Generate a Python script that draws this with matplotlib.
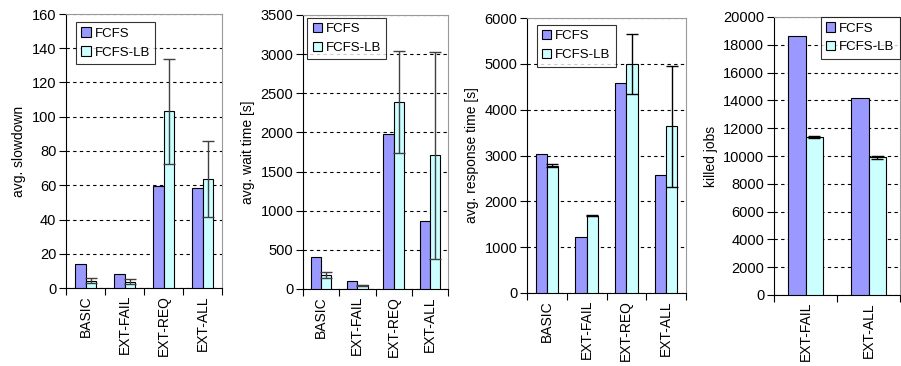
import matplotlib.pyplot as plt
import numpy as np

plt.rcParams['font.family'] = ['Liberation Sans', 'DejaVu Sans']

categories = ['BASIC', 'EXT-FAIL', 'EXT-REQ', 'EXT-ALL']
killed_categories = ['EXT-FAIL', 'EXT-ALL']

slowdown_fcfs = [14.2, 8.3, 59.5, 58.3]
slowdown_lb = [4.3, 3.6, 103.2, 63.5]
slowdown_lb_err = [1.5, 1.5, 30.5, 22.2]

wait_fcfs = [415, 100, 1975, 870]
wait_lb = [175, 45, 2390, 1710]
wait_lb_err = [40, 12, 650, 1322]

resp_fcfs = [3040, 1220, 4590, 2580]
resp_lb = [2780, 1690, 5000, 3640]
resp_lb_err = [40, 20, 655, 1320]

killed_fcfs = [18600, 14200]
killed_lb = [11350, 9900]
killed_lb_err = [80, 80]

W, H = 901, 366
fig = plt.figure(figsize=(W / 100, H / 100), dpi=100)


def px_axes(left, right, top, bottom):
  return fig.add_axes([left / W, 1 - bottom / H, (right - left) / W, (bottom - top) / H])


def panel(ax, cats, fcfs, lb, lb_err, ymax, ystep, ylabel, legend_loc, legend_anchor, err_color):
  x = np.arange(len(cats))
  w = 0.28
  ax.bar(x - w / 2, fcfs, w, color='#9999FF', edgecolor='black', linewidth=0.8, label='FCFS', zorder=3)
  ax.bar(x + w / 2, lb, w, color='#CCFFFF', edgecolor='black', linewidth=0.8, label='FCFS-LB', zorder=3)
  ax.errorbar(x + w / 2, lb, yerr=lb_err, fmt='none', ecolor=err_color, elinewidth=1.0,
              capsize=4, capthick=1.0, zorder=4)
  ax.set_xlim(-0.5, len(cats) - 0.5)
  ax.set_ylim(0, ymax)
  ax.set_yticks(np.arange(0, ymax + 1, ystep))
  ax.yaxis.grid(True, color='black', linestyle=(0, (3, 3)), linewidth=0.8, zorder=0)
  ax.set_axisbelow(True)
  ax.set_xticks(x)
  ax.set_xticklabels(cats, rotation=90, fontsize=10)
  ax.set_xticks(np.arange(len(cats) + 1) - 0.5, minor=True)
  ax.tick_params(axis='x', which='major', length=0, pad=5)
  ax.tick_params(axis='x', which='minor', length=5, direction='out', width=0.8)
  ax.tick_params(axis='y', length=5, direction='out', width=0.8, labelsize=10.5, pad=2)
  ax.set_ylabel(ylabel, fontsize=10)
  for s in ['left', 'bottom']:
    ax.spines[s].set_color('black')
    ax.spines[s].set_linewidth(0.8)
  for s in ['top', 'right']:
    ax.spines[s].set_color('#999999')
    ax.spines[s].set_linewidth(0.8)
  leg = ax.legend(loc=legend_loc, bbox_to_anchor=legend_anchor, fontsize=9.5, frameon=True,
                  fancybox=False, handlelength=0.7, handleheight=0.7, handletextpad=0.3,
                  borderpad=0.4, labelspacing=0.5, borderaxespad=0)
  leg.get_frame().set_edgecolor('black')
  leg.get_frame().set_linewidth(0.8)
  for h in leg.legend_handles:
    h.set_linewidth(0.8)


ax1 = px_axes(66, 222, 14, 288)
panel(ax1, categories, slowdown_fcfs, slowdown_lb, slowdown_lb_err, 160, 20,
      'avg. slowdown', 'upper left', (0.065, 0.97), '#404040')

ax2 = px_axes(303, 448, 15, 289)
panel(ax2, categories, wait_fcfs, wait_lb, wait_lb_err, 3500, 500,
      'avg. wait time [s]', 'upper left', (0.03, 0.99), '#404040')

ax3 = px_axes(527, 686, 18, 293)
panel(ax3, categories, resp_fcfs, resp_lb, resp_lb_err, 6000, 1000,
      'avg. response time [s]', 'upper left', (0.06, 0.975), 'black')

ax4 = px_axes(774, 900, 17, 295)
panel(ax4, killed_categories, killed_fcfs, killed_lb, killed_lb_err, 20000, 2000,
      'killed jobs', 'upper right', (1.0, 1.0), 'black')

fig.savefig('out.png', dpi=100)
